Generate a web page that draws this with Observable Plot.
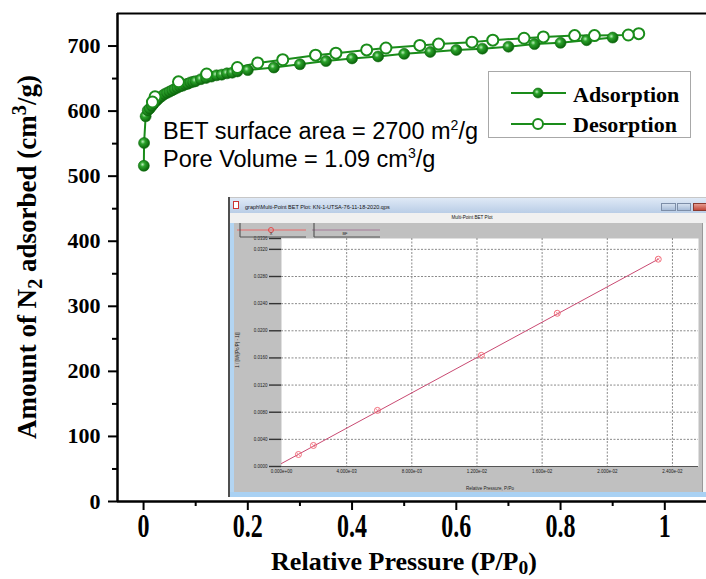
<!DOCTYPE html>
<html><head><meta charset="utf-8">
<script src="https://cdn.jsdelivr.net/npm/d3@7"></script>
<script src="https://cdn.jsdelivr.net/npm/@observablehq/plot@0.6"></script>
<style>
body{margin:0;background:#fff;}
#wrap{position:relative;width:706px;height:579px;overflow:hidden;background:#fff;}
.abs{position:absolute;white-space:nowrap;}
.serif{font-family:'Liberation Serif',serif;font-weight:bold;color:#000;}
.sans{font-family:'Liberation Sans',Arial,sans-serif;color:#000;}
</style></head><body><div id="wrap"></div>
<script>
// ---- main isotherm data ----
const adsP=[0.0005,0.001,0.004,0.008,0.012,0.016,0.02,0.025,0.03,0.035,0.04,0.045,0.05,0.055,0.06,0.065,0.07,0.075,0.08,0.085,0.09,0.095,0.10,0.11,0.12,0.13,0.14,0.15,0.16,0.17,0.18,0.20,0.25,0.30,0.35,0.40,0.45,0.50,0.55,0.60,0.65,0.70,0.75,0.80,0.85,0.90];
const adsV=[516,551,592,601,604,608,612,616,620,623,626,628,630,632,634,636,638,639,641,642,644,645,646,649,651,653,655,656,658,659,661,663,667,672,677,681,684,688,691,694,696,699,703,705,709,713];
const desP=[0.95,0.93,0.865,0.827,0.767,0.73,0.67,0.63,0.566,0.53,0.465,0.428,0.369,0.33,0.267,0.219,0.18,0.121,0.067,0.022,0.017];
const desV=[719,717,716,716,714,712,709,706,703,701,697,694,689,686,679,674,667,657,645,622,614];
const seriesNames=["Adsorption","Desorption"];
const xDomain=[-0.05,1.08];
const yDomain=[0,750];
const xMajor=[0,0.2,0.4,0.6,0.8,1];
const xMajorLabels=["0","0.2","0.4","0.6","0.8","1"];
const xMinor=[0.1,0.3,0.5,0.7,0.9];
const yMajor=[0,100,200,300,400,500,600,700];
const yMajorLabels=["0","100","200","300","400","500","600","700"];
const yMinor=[50,150,250,350,450,550,650];
// ---- inset BET plot data ----
const betP=[0.00104,0.00196,0.00589,0.01227,0.01693,0.02313];
const betY=[0.00177,0.0031,0.00827,0.01638,0.02258,0.03055];
const fitP=[0,0.02313];
const fitY=[0.00044,0.03055];
const insetXDomain=[0,0.0256];
const insetYDomain=[0,0.0336];
const insetXTicks=[0,0.004,0.008,0.012,0.016,0.020,0.024];
const insetXLabels=["0.000e+00","4.000e-03","8.000e-03","1.200e-02","1.600e-02","2.000e-02","2.400e-02"];
const insetYTicks=[0,0.004,0.008,0.012,0.016,0.020,0.024,0.028,0.032,0.0336];
const insetYLabels=["0.0000","0.0040","0.0080","0.0120","0.0160","0.0200","0.0240","0.0280","0.0320","0.0336"];

const green="#1a8c1a";
const ads=adsP.map((p,i)=>({p,v:adsV[i]}));
const des=desP.map((p,i)=>({p,v:desV[i]}));
const bet=betP.map((p,i)=>({p,v:betY[i]}));
const fit=fitP.map((p,i)=>({p,v:fitY[i]}));
const lab=(ticks,labels)=>d=>labels[ticks.indexOf(d)];
const wrap=document.getElementById("wrap");

const main=Plot.plot({
  width:706,height:579,marginLeft:117,marginRight:0,marginTop:13,marginBottom:78,
  x:{domain:xDomain},y:{domain:yDomain},
  style:"background:transparent;font-family:'Liberation Serif',serif;font-weight:bold;font-size:22px;color:#000;overflow:visible;max-width:none;",
  marks:[
    Plot.axisY(yMinor,{tickSize:5,strokeWidth:2,tickFormat:()=>"",label:null}),
    Plot.axisY(yMajor,{tickSize:9,tickPadding:8,strokeWidth:2,tickFormat:lab(yMajor,yMajorLabels),fontSize:22,label:null}),
    Plot.axisX(xMinor,{tickSize:5,strokeWidth:2,tickFormat:()=>"",label:null}),
    Plot.axisX(xMajor,{tickSize:9,tickPadding:6,strokeWidth:2,tickFormat:lab(xMajor,xMajorLabels),fontSize:24,label:null}),
    Plot.ruleX([xDomain[0]],{strokeWidth:2.5}),
    Plot.ruleY([yDomain[0]],{strokeWidth:2.5}),
    Plot.ruleY([yDomain[1]],{strokeWidth:2}),
    Plot.line(ads,{x:"p",y:"v",stroke:green,strokeWidth:2}),
    Plot.line(des,{x:"p",y:"v",stroke:green,strokeWidth:2}),
    Plot.dot(ads,{x:"p",y:"v",r:5.5,fill:"url(#ball)",stroke:"#0d6b0d",strokeWidth:0.6}),
    Plot.dot(des,{x:"p",y:"v",r:5.5,fill:"white",stroke:green,strokeWidth:2})
  ]
});
const ns="http://www.w3.org/2000/svg";
const defs=document.createElementNS(ns,"defs");
defs.innerHTML='<radialGradient id="ball" cx="0.38" cy="0.38" r="0.62"><stop offset="0" stop-color="#b9f0b9"/><stop offset="0.35" stop-color="#2ba22b"/><stop offset="1" stop-color="#0a640a"/></radialGradient>';
main.prepend(defs);
main.style.position="absolute";main.style.left="0";main.style.top="0";
wrap.appendChild(main);
// stretch x tick labels vertically (as in the reference)
main.querySelectorAll('g[aria-label="x-axis tick label"] text').forEach(t=>{
  const bb=t.getBBox(); const c=bb.y+bb.height/2; const s=1.4;
  t.setAttribute("transform",(t.getAttribute("transform")||"")+` translate(0,${c}) scale(1,${s}) translate(0,${-c})`);
});

// axis titles
wrap.insertAdjacentHTML("beforeend",
 `<div class="abs serif" style="left:404px;top:549px;font-size:26px;line-height:26px;transform:translateX(-50%);">Relative Pressure (P/P<span style="font-size:75%;position:relative;top:4px;">0</span>)</div>
  <div class="abs serif" style="left:28px;top:257px;font-size:27px;line-height:27px;transform:translate(-50%,-50%) rotate(-90deg);">Amount of N<span style="font-size:75%;position:relative;top:6px;">2</span> adsorbed (cm<span style="font-size:75%;position:relative;top:-10px;">3</span>/g)</div>
  <div class="abs sans" style="left:163px;top:117px;font-size:23.5px;line-height:28px;">BET surface area = 2700 m<span style="font-size:60%;position:relative;top:-9px;line-height:0;">2</span>/g<br>Pore Volume = 1.09 cm<span style="font-size:60%;position:relative;top:-9px;line-height:0;">3</span>/g</div>
  <div class="abs" style="left:488px;top:71px;width:201px;height:65px;border:1.5px solid #a8a8a8;background:#fff;">
   <svg width="201" height="65" style="display:block;font-family:'Liberation Serif',serif;font-weight:bold;font-size:22px;">
     <line x1="22" x2="77" y1="21" y2="21" stroke="${green}" stroke-width="2"/>
     <circle cx="49" cy="21" r="5" fill="url(#ball)" stroke="#0d6b0d" stroke-width="0.6"/>
     <text x="84" y="30">${seriesNames[0]}</text>
     <line x1="22" x2="77" y1="52" y2="52" stroke="${green}" stroke-width="2"/>
     <circle cx="49" cy="52" r="5" fill="#fff" stroke="${green}" stroke-width="2"/>
     <text x="84" y="60">${seriesNames[1]}</text>
   </svg>
  </div>`);

// inset window chrome
wrap.insertAdjacentHTML("beforeend",
 `<div id="inset" class="abs" style="left:228px;top:197px;width:478px;height:300px;overflow:hidden;background:#e6e6e6;font-family:'Liberation Sans',Arial,sans-serif;">
   <div class="abs" style="left:0;top:0;width:2px;height:300px;background:#4f4f4f;"></div>
   <div class="abs" style="left:2px;top:0;width:476px;height:16px;background:linear-gradient(#dfe9f6,#b9cde6);border-top:1px solid #c7c7c7;box-sizing:border-box;"></div>
   <div class="abs" style="left:5px;top:4px;width:6px;height:8px;background:#fff;border:1px solid #c33;box-sizing:border-box;"></div>
   <div class="abs" style="left:17px;top:7px;font-size:5.5px;line-height:6px;color:#111;">graph\\Multi-Point BET Plot: KN-1-UTSA-76-11-18-2020.qps</div>
   <div class="abs" style="left:433px;top:6px;width:15px;height:8px;background:linear-gradient(#d4e0ef,#a7bcd8);border:1px solid #7d8ea8;box-sizing:border-box;"></div>
   <div class="abs" style="left:449px;top:6px;width:14px;height:8px;background:linear-gradient(#d4e0ef,#a7bcd8);border:1px solid #7d8ea8;box-sizing:border-box;"></div>
   <div class="abs" style="left:465px;top:6px;width:15px;height:8px;background:linear-gradient(#e59a8e,#c24a3c);border:1px solid #8a3a30;box-sizing:border-box;"></div>
   <div class="abs" style="left:2px;top:16px;width:476px;height:10px;background:#f0f0f0;"></div>
   <div class="abs" style="left:244px;top:18px;font-size:4.6px;line-height:6px;transform:translateX(-50%);color:#111;">Multi-Point BET Plot</div>
   <div class="abs" style="left:2px;top:26px;width:4px;height:274px;background:#b3d5f2;"></div>
   <div class="abs" style="left:2px;top:295px;width:476px;height:5px;background:#a9d1f3;"></div>
   <div class="abs" style="left:474px;top:26px;width:4px;height:269px;background:#f6f6f6;border-left:1px solid #999;box-sizing:border-box;"></div>
   <div id="grey" class="abs" style="left:6px;top:26px;width:468px;height:269px;background:#c0c0c0;"></div>
  </div>`);

const grey=document.getElementById("grey");
const inset=Plot.plot({
  width:468,height:269,marginLeft:47,marginTop:15,marginRight:4,marginBottom:26,
  x:{domain:insetXDomain},y:{domain:insetYDomain},
  style:"background:transparent;font-family:'Liberation Sans',Arial,sans-serif;font-size:4.5px;color:#222;max-width:none;",
  marks:[
    Plot.frame({fill:"white"}),
    Plot.gridX(insetXTicks.slice(1),{stroke:"#8a8a8a",strokeOpacity:1,strokeDasharray:"2,1.5"}),
    Plot.gridY(insetYTicks.slice(1,-1),{stroke:"#8a8a8a",strokeOpacity:1,strokeDasharray:"2,1.5"}),
    Plot.ruleY([insetYDomain[0]],{stroke:"#555",strokeWidth:1.2}),
    Plot.axisY(insetYTicks,{tickSize:12,tickPadding:2,stroke:"#333",strokeWidth:1.4,tickFormat:lab(insetYTicks,insetYLabels),fontSize:4.5,label:null}),
    Plot.axisX(insetXTicks,{tickSize:0,tickPadding:3,tickFormat:lab(insetXTicks,insetXLabels),fontSize:4.5,label:null}),
    Plot.line(fit,{x:"p",y:"v",stroke:"#c94a72",strokeWidth:1}),
    Plot.dot(bet,{x:"p",y:"v",r:3,stroke:"#f0606e",strokeWidth:0.9,fill:"none"}),
    Plot.dot(bet,{x:"p",y:"v",r:1.8,symbol:"times",stroke:"#f07a86",strokeWidth:0.7})
  ]
});
inset.style.position="absolute";inset.style.left="0";inset.style.top="0";
grey.appendChild(inset);
grey.insertAdjacentHTML("beforeend",
 `<svg class="abs" style="left:0;top:0;" width="160" height="15">
   <line x1="3" x2="72" y1="7" y2="7" stroke="#e86a6a" stroke-width="1"/>
   <circle cx="37" cy="7" r="2.5" fill="none" stroke="#e64a4a" stroke-width="1"/>
   <text x="37" y="12" font-size="4" text-anchor="middle" fill="#222">X</text>
   <line x1="78" x2="146" y1="7" y2="7" stroke="#a47a98" stroke-width="1.2"/>
   <text x="111" y="12" font-size="4" text-anchor="middle" fill="#222">BF</text>
   <line x1="6" x2="6" y1="0" y2="14" stroke="#444" stroke-width="1"/>
   <line x1="80" x2="80" y1="0" y2="14" stroke="#444" stroke-width="1"/>
   <line x1="6" x2="72" y1="14" y2="14" stroke="#555" stroke-width="1"/>
   <line x1="80" x2="146" y1="14" y2="14" stroke="#555" stroke-width="1"/>
  </svg>
  <div class="abs" style="left:3px;top:127px;font-size:4.5px;line-height:5px;color:#222;transform:translate(-50%,-50%) rotate(-90deg);">1 / [W((Po/P) - 1)]</div>
  <div class="abs" style="left:256px;top:263px;font-size:4.5px;line-height:5px;color:#222;transform:translateX(-50%);">Relative Pressure, P/Po</div>`);
</script></body></html>
